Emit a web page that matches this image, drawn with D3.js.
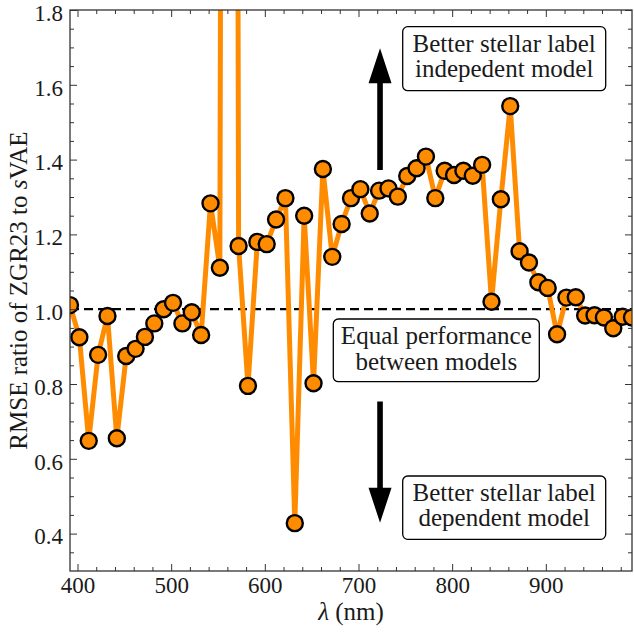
<!DOCTYPE html>
<html>
<head>
<meta charset="utf-8">
<script src="https://cdn.jsdelivr.net/npm/d3@7"></script>
<style>
  body { margin: 0; background: #fff; }
  svg { display: block; }
</style>
</head>
<body>
<svg id="chart" width="634" height="632"></svg>
<script>
// ---- Data ----
const wavelengths = [392, 402, 412, 422, 432, 442, 452, 462, 472, 482,
                     492, 502, 512, 522, 532, 542, 552, 562, 572, 582,
                     592, 602, 612, 622, 632, 642, 652, 662, 672, 682,
                     692, 702, 712, 722, 732, 742, 752, 762, 772, 782,
                     792, 802, 812, 822, 832, 842, 852, 862, 872, 882,
                     892, 902, 912, 922, 932, 942, 952, 962, 972, 982, 992];
const rmseRatio = [1.011, 0.925, 0.648, 0.878, 0.982, 0.655, 0.875, 0.894, 0.926, 0.962,
                   1.000, 1.017, 0.962, 0.992, 0.931, 1.283, 1.111, 12.0, 1.169, 0.795,
                   1.180, 1.174, 1.240, 1.297, 0.428, 1.250, 0.802, 1.375, 1.140, 1.228,
                   1.297, 1.321, 1.256, 1.317, 1.323, 1.301, 1.356, 1.377, 1.408, 1.297,
                   1.370, 1.359, 1.370, 1.357, 1.386, 1.020, 1.294, 1.543, 1.155, 1.125,
                   1.072, 1.057, 0.933, 1.031, 1.032, 0.983, 0.984, 0.978, 0.949, 0.980, 0.978];
const xMajorTicks = [400, 500, 600, 700, 800, 900];
const xMinorTicks = [420, 440, 460, 480, 520, 540, 560, 580, 620, 640, 660, 680,
                     720, 740, 760, 780, 820, 840, 860, 880, 920, 940, 960, 980];
const yMajorTicks = [0.4, 0.6, 0.8, 1.0, 1.2, 1.4, 1.6, 1.8];
const yMinorTicks = [0.35, 0.45, 0.5, 0.55, 0.65, 0.7, 0.75, 0.85, 0.9, 0.95, 1.05, 1.1,
                     1.15, 1.25, 1.3, 1.35, 1.45, 1.5, 1.55, 1.65, 1.7, 1.75];
const xDomain = [392, 992];
const yDomain = [0.3, 1.8];
const referenceLevel = 1.0;
const boxTexts = [
  ["Better stellar label", "indepedent model"],
  ["Equal performance", "between models"],
  ["Better stellar label", "dependent model"]
];

// ---- Layout ----
const plot = { left: 70, right: 632, top: 10, bottom: 571 };
const FONT = '"Liberation Serif"';
const ORANGE = "#ff8c00";
const TEXT = "#1a1a1a";

const svg = d3.select("#chart");
const x = d3.scaleLinear().domain(xDomain).range([plot.left, plot.right]);
const y = d3.scaleLinear().domain(yDomain).range([plot.bottom, plot.top]);

svg.append("defs").append("clipPath").attr("id", "clip")
  .append("rect")
  .attr("x", plot.left).attr("y", plot.top)
  .attr("width", plot.right - plot.left).attr("height", plot.bottom - plot.top);

// dashed reference line
svg.append("line")
  .attr("x1", plot.left).attr("x2", plot.right)
  .attr("y1", y(referenceLevel)).attr("y2", y(referenceLevel))
  .attr("stroke", "#000").attr("stroke-width", 2.2)
  .attr("stroke-dasharray", "9,5");

// data line + markers
const data = wavelengths.map((w, i) => ({ w, v: rmseRatio[i] }));
const gData = svg.append("g").attr("clip-path", "url(#clip)");
gData.append("path")
  .datum(data)
  .attr("fill", "none")
  .attr("stroke", ORANGE)
  .attr("stroke-width", 5)
  .attr("stroke-linejoin", "round")
  .attr("d", d3.line().x(d => x(d.w)).y(d => y(d.v)));
gData.selectAll("circle")
  .data(data)
  .join("circle")
  .attr("cx", d => x(d.w))
  .attr("cy", d => y(d.v))
  .attr("r", 8)
  .attr("fill", ORANGE)
  .attr("stroke", "#000")
  .attr("stroke-width", 2.4);

// ---- Axes ----
function styleAxis(g) {
  g.attr("font-family", null).attr("font-size", null);
  g.select(".domain").remove();
  g.selectAll(".tick line").attr("stroke", "#333").attr("stroke-width", 1);
  g.selectAll(".tick text")
    .attr("fill", TEXT)
    .style("font-family", FONT).style("font-size", "23px");
}
// bottom
svg.append("g").attr("transform", `translate(0,${plot.bottom})`)
  .call(d3.axisBottom(x).tickValues(xMajorTicks).tickSize(-7).tickPadding(6).tickFormat(d3.format("d")))
  .call(styleAxis);
svg.append("g").attr("transform", `translate(0,${plot.bottom})`)
  .call(d3.axisBottom(x).tickValues(xMinorTicks).tickSize(-4).tickFormat(""))
  .call(styleAxis);
// top
svg.append("g").attr("transform", `translate(0,${plot.top})`)
  .call(d3.axisTop(x).tickValues(xMajorTicks).tickSize(-7).tickFormat(""))
  .call(styleAxis);
svg.append("g").attr("transform", `translate(0,${plot.top})`)
  .call(d3.axisTop(x).tickValues(xMinorTicks).tickSize(-4).tickFormat(""))
  .call(styleAxis);
// left
svg.append("g").attr("transform", `translate(${plot.left},0)`)
  .call(d3.axisLeft(y).tickValues(yMajorTicks).tickSize(-7).tickPadding(7).tickFormat(d3.format(".1f")))
  .call(styleAxis)
  .call(g => g.selectAll(".tick text").attr("dy", "0.45em"));
svg.append("g").attr("transform", `translate(${plot.left},0)`)
  .call(d3.axisLeft(y).tickValues(yMinorTicks).tickSize(-4).tickFormat(""))
  .call(styleAxis);
// right
svg.append("g").attr("transform", `translate(${plot.right},0)`)
  .call(d3.axisRight(y).tickValues(yMajorTicks).tickSize(-7).tickFormat(""))
  .call(styleAxis);
svg.append("g").attr("transform", `translate(${plot.right},0)`)
  .call(d3.axisRight(y).tickValues(yMinorTicks).tickSize(-4).tickFormat(""))
  .call(styleAxis);

// frame
svg.append("rect")
  .attr("x", plot.left).attr("y", plot.top)
  .attr("width", plot.right - plot.left).attr("height", plot.bottom - plot.top)
  .attr("fill", "none").attr("stroke", "#333").attr("stroke-width", 1.3);

// axis labels
const xl = svg.append("text")
  .attr("x", (plot.left + plot.right) / 2).attr("y", 620)
  .attr("text-anchor", "middle")
  .attr("fill", TEXT).style("font-family", FONT).style("font-size", "25px");
xl.append("tspan").attr("font-style", "italic").text("λ");
xl.append("tspan").text(" (nm)");

const yl = svg.append("text")
  .attr("transform", `translate(27,${(plot.top + plot.bottom) / 2}) rotate(-90)`)
  .attr("text-anchor", "middle")
  .attr("fill", TEXT).style("font-family", FONT).style("font-size", "25px");
yl.append("tspan").text("RMSE ratio of ZGR23 to ");
yl.append("tspan").attr("font-style", "italic").text("s");
yl.append("tspan").text("VAE");

// ---- Arrows (positions in data units) ----
const arrowX = 723;
const arrows = [
  { from: 1.372, to: 1.698 },
  { from: 0.753, to: 0.429 }
];
arrows.forEach(a => {
  const cx = x(arrowX);
  const y0 = y(a.from), y1 = y(a.to);
  const dir = Math.sign(y1 - y0);
  const headLen = 35, headHalf = 11.5, shaftHalf = 2.8;
  const yb = y1 - dir * headLen;
  const p = d3.path();
  p.moveTo(cx - shaftHalf, y0);
  p.lineTo(cx - shaftHalf, yb);
  p.lineTo(cx - headHalf, yb);
  p.lineTo(cx, y1);
  p.lineTo(cx + headHalf, yb);
  p.lineTo(cx + shaftHalf, yb);
  p.lineTo(cx + shaftHalf, y0);
  p.closePath();
  svg.append("path").attr("d", p.toString()).attr("fill", "#000");
});

// ---- Text boxes ----
const boxes = [
  { x: 402.7, y: 26.7, w: 203, h: 64, lines: boxTexts[0], base: [51.7, 77.3] },
  { x: 333.3, y: 319, w: 206, h: 62.7, lines: boxTexts[1], base: [344, 369.5] },
  { x: 402.7, y: 476, w: 203, h: 63.3, lines: boxTexts[2], base: [500.5, 526] }
];
boxes.forEach(b => {
  svg.append("rect")
    .attr("x", b.x).attr("y", b.y).attr("width", b.w).attr("height", b.h)
    .attr("rx", 5).attr("ry", 5)
    .attr("fill", "#fff").attr("stroke", "#000").attr("stroke-width", 1.3);
  b.lines.forEach((t, i) => {
    svg.append("text")
      .attr("x", b.x + b.w / 2).attr("y", b.base[i])
      .attr("text-anchor", "middle")
      .attr("fill", TEXT).style("font-family", FONT).style("font-size", "25px")
      .text(t);
  });
});
</script>
</body>
</html>
